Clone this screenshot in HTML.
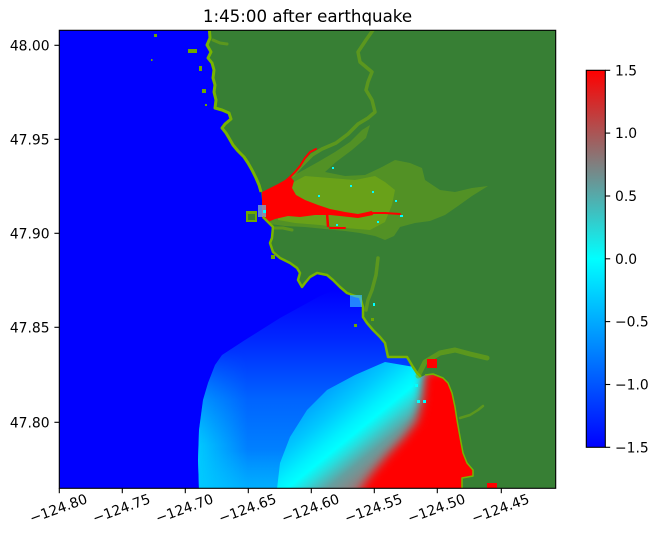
<!DOCTYPE html>
<html><head><meta charset="utf-8"><style>
html,body{margin:0;padding:0;background:#fff;}
svg{display:block;}
text{font-family:"DejaVu Sans","Liberation Sans",sans-serif;fill:#000;}
</style></head><body>
<svg width="658" height="541" viewBox="0 0 658 541" xmlns="http://www.w3.org/2000/svg">
<defs>
<clipPath id="pc"><rect x="59.3" y="30.3" width="496.4" height="458"/></clipPath>
<linearGradient id="gL" gradientUnits="userSpaceOnUse" x1="0" y1="290" x2="0" y2="489">
<stop offset="0" stop-color="#0000ff"/><stop offset="0.25" stop-color="#0028ff"/>
<stop offset="0.55" stop-color="#0064ff"/><stop offset="1" stop-color="#0096ff"/></linearGradient>
<linearGradient id="gRim" gradientUnits="userSpaceOnUse" x1="198" y1="0" x2="248" y2="0">
<stop offset="0" stop-color="#00dcff" stop-opacity="0.8"/><stop offset="1" stop-color="#00dcff" stop-opacity="0"/></linearGradient>
<linearGradient id="gMaskV" gradientUnits="userSpaceOnUse" x1="0" y1="350" x2="0" y2="445">
<stop offset="0" stop-color="#000"/><stop offset="1" stop-color="#fff"/></linearGradient>
<mask id="mV"><rect x="0" y="0" width="658" height="541" fill="url(#gMaskV)"/></mask>
<linearGradient id="gBot" gradientUnits="userSpaceOnUse" x1="0" y1="450" x2="0" y2="489">
<stop offset="0" stop-color="#00c8ff" stop-opacity="0"/><stop offset="1" stop-color="#00c8ff" stop-opacity="0.5"/></linearGradient>
<linearGradient id="gB" gradientUnits="userSpaceOnUse" x1="316" y1="387.5" x2="385.5" y2="472.75">
<stop offset="0" stop-color="#0096ff"/><stop offset="0.273" stop-color="#00c8ff"/>
<stop offset="0.455" stop-color="#00f0ff"/><stop offset="0.545" stop-color="#00ffff"/>
<stop offset="0.636" stop-color="#28dcdc"/><stop offset="0.773" stop-color="#64a0a0"/>
<stop offset="0.909" stop-color="#8c8282"/><stop offset="1" stop-color="#aa6e6e"/></linearGradient>
<filter id="blur5" x="-20%" y="-20%" width="140%" height="140%"><feGaussianBlur stdDeviation="5"/></filter>
<linearGradient id="gCB" x1="0" y1="0" x2="0" y2="1">
<stop offset="0" stop-color="#ff0000"/><stop offset="0.5" stop-color="#00ffff"/><stop offset="1" stop-color="#0000ff"/></linearGradient>
</defs>

<!-- title -->
<text x="307.5" y="22" font-size="16.67" text-anchor="middle">1:45:00 after earthquake</text>

<g clip-path="url(#pc)">
<rect x="59.3" y="30.3" width="496.4" height="458" fill="#0000ff"/>
<!-- wave left region -->
<path d="M199,489 L198,460 L199,430 L203,400 L208,383 L215,365 L222,355 L245,340 L280,318 L320,296 L345,285 L420,300 L560,300 L560,489 Z" fill="url(#gL)"/>
<path d="M199,489 L198,460 L199,430 L203,400 L208,383 L215,365 L222,355 L245,340 L280,318 L320,296 L345,285 L420,300 L560,300 L560,489 Z" fill="url(#gRim)" mask="url(#mV)"/>
<path d="M199,489 L198,450 L560,450 L560,489 Z" fill="url(#gBot)"/>
<!-- band -->
<path d="M277,489 L280,463 L290,437 L307,410 L327,390 L355,375 L385,362 L420,368 L560,368 L560,489 Z" fill="url(#gB)"/>
<path d="M424,370 L495,370 L495,498 L356,498 L362,488 L372,474 L388,455 L404,438 L417,421 L422,400 Z" fill="#ff0000" filter="url(#blur5)"/>

<!-- land -->
<path d="M209,25 L210,38 L207,45 L211,52 L208,58 L212,63 L214,70 L213,78 L215,85 L214,92 L216,100 L215,108 L222,110 L229,113 L231,119 L225,124 L222,128 L226,133 L229,138 L233,145 L238,151 L244,157 L248,163 L252,170 L256,178 L259,185 L261,192 L262,200 L263,210 L263,217 L268,222 L273,227 L272,238 L270,243 L273,252 L280,258 L290,263 L297,268 L300,273 L298,280 L302,287 L305,283 L310,277 L317,273 L327,275 L333,280 L340,287 L347,293 L355,296 L360,297 L363,307 L363,317 L367,323 L373,330 L380,337 L385,343 L388,357 L407,357 L413,367 L417,373 L421,377 L425,375 L433,374 L443,378 L448,383 L452,393 L455,407 L457,420 L460,437 L463,453 L467,463 L473,470 L473,476 L462,478 L462,495 L560,495 L560,25 Z" fill="#377f34"/>
<rect x="487" y="483" width="10" height="7" fill="#ff0000"/>

<!-- olive estuary -->
<g fill="#86b40c" opacity="0.35">
<path d="M268,200 L285,180 L300,172 L318,162 L335,152 L350,142 L362,130 L370,125 L366,138 L352,150 L336,162 L325,172 L345,176 L365,175 L380,168 L395,160 L410,163 L422,168 L425,180 L440,190 L455,192 L472,188 L488,186 L472,196 L458,206 L445,215 L430,221 L415,223 L400,227 L394,236 L385,240 L375,236 L360,233 L345,231 L325,229 L305,227 L285,226 L270,224 Z"/>
</g>
<g fill="#8cba08" opacity="0.4">
<path d="M275,198 L290,184 L305,176 L330,178 L355,180 L375,176 L385,182 L395,190 L392,205 L385,222 L370,230 L345,228 L320,225 L295,223 L278,220 Z"/>
</g>
<g fill="none" stroke="#80b008" stroke-linejoin="round" stroke-linecap="round" opacity="0.5">
<polyline stroke-width="3.5" points="373,30 366,40 358,52 360,62 372,72 368,82 366,90 372,100 375,112 368,118 358,124 348,134 336,143 322,149 312,155 302,165 293,175"/>
<polyline stroke-width="3" points="213,40 220,43 227,44"/>
<polyline stroke-width="3.5" points="378,258 376,275 372,290 368,300 366,310"/>
<polyline stroke-width="5" points="418,376 425,362 440,353 455,350 470,354 487,358"/>
<polyline stroke-width="2.5" points="460,418 470,415 478,410 483,406"/>
<polyline stroke-width="3" points="273,228 283,228 292,230"/>
</g>

<!-- red bay -->
<path d="M262,192 L270,188 L278,184 L285,180 L290,176 L294,181 L292,188 L296,195 L305,200 L318,205 L330,209 L345,212 L358,214 L372,211 L373,215 L358,218 L340,216 L330,215 L315,215 L300,217 L288,216 L275,219 L268,222 L262,218 Z" fill="#ff0000"/>
<g fill="none" stroke="#ff0000" stroke-linecap="round">
<polyline stroke-width="2" points="287,180 295,172 300,166 305,158 310,152 316,149"/>
<polyline stroke-width="2" points="372,213 385,213 400,214"/>
<polyline stroke-width="2.5" points="327,213 328,226"/>
<polyline stroke-width="2" points="330,228 345,228"/>
</g>
<rect x="427" y="359" width="10" height="9" fill="#ff0000"/>
<rect x="258" y="205" width="8" height="12" fill="#7aa6c8" opacity="0.8"/>

<!-- coast rim -->
<g fill="none" stroke="#78b400" stroke-width="3" stroke-linejoin="round">
<polyline points="209,25 210,38 207,45 211,52 208,58 212,63 214,70 213,78 215,85 214,92 216,100 215,108 222,110 229,113 231,119 225,124 222,128 226,133 229,138 233,145 238,151 244,157 248,163 252,170 256,178 259,185 261,192"/>
<polyline stroke-width="2.5" points="263,217 268,222 273,227 272,238 270,243 273,252 280,258 290,263 297,268 300,273 298,280 302,287 305,283 310,277 317,273 327,275 333,280 340,287 347,293 355,296 360,297 363,307 363,317 367,323 373,330 380,337 385,343 388,357 407,357 413,367 417,373 421,377"/>
<polyline stroke-width="1.5" points="425,375 433,374 443,378 448,383 452,393 455,407 457,420 460,437 463,453 467,463 473,470 473,476 462,478 462,489"/>
</g>

<!-- islands -->
<g fill="#6ea800">
<rect x="154" y="34" width="3" height="3"/>
<rect x="151" y="59" width="1.5" height="2"/>
<rect x="188" y="49" width="9" height="4"/>
<rect x="199" y="66" width="3" height="5"/>
<rect x="202" y="89" width="4" height="4"/>
<rect x="205" y="104" width="2" height="2"/>
<rect x="246" y="211" width="11" height="11"/>
<rect x="271" y="255" width="4" height="4"/>
<rect x="354" y="324" width="3" height="3"/>
<rect x="371" y="318" width="3" height="3"/>
</g>
<rect x="248" y="214" width="7" height="6" fill="#377f34"/>

<!-- cyan specks -->
<g fill="#00ffff">
<rect x="350" y="185" width="2" height="2"/><rect x="372" y="191" width="2" height="2"/>
<rect x="395" y="200" width="2" height="2"/><rect x="400" y="215" width="3" height="2"/>
<rect x="336" y="224" width="2" height="2"/><rect x="377" y="221" width="2" height="2"/>
<rect x="318" y="195" width="2" height="2"/><rect x="332" y="167" width="2" height="2"/>
<rect x="415" y="384" width="3" height="3"/><rect x="417" y="400" width="3" height="3"/>
<rect x="423" y="400" width="3" height="3"/><rect x="373" y="303" width="2" height="3"/>
<rect x="263" y="210" width="3" height="3"/>
</g>
<rect x="350" y="295" width="12" height="12" fill="#30b8ff" opacity="0.7"/>
</g>

<!-- frame -->
<rect x="59.3" y="30.3" width="496.4" height="458" fill="none" stroke="#000" stroke-width="1.1"/>

<!-- x ticks -->
<g stroke="#000" stroke-width="1.1">
<line x1="59.3" y1="488.3" x2="59.3" y2="493.2"/>
<line x1="122.3" y1="488.3" x2="122.3" y2="493.2"/>
<line x1="185.3" y1="488.3" x2="185.3" y2="493.2"/>
<line x1="248.3" y1="488.3" x2="248.3" y2="493.2"/>
<line x1="311.3" y1="488.3" x2="311.3" y2="493.2"/>
<line x1="374.3" y1="488.3" x2="374.3" y2="493.2"/>
<line x1="437.3" y1="488.3" x2="437.3" y2="493.2"/>
<line x1="501.3" y1="488.3" x2="501.3" y2="493.2"/>
</g>
<g font-size="13.89" text-anchor="middle">
<text transform="translate(60,513) rotate(-20)">−124.80</text>
<text transform="translate(123,513) rotate(-20)">−124.75</text>
<text transform="translate(186,513) rotate(-20)">−124.70</text>
<text transform="translate(249,513) rotate(-20)">−124.65</text>
<text transform="translate(312,513) rotate(-20)">−124.60</text>
<text transform="translate(375,513) rotate(-20)">−124.55</text>
<text transform="translate(438,513) rotate(-20)">−124.50</text>
<text transform="translate(502,513) rotate(-20)">−124.45</text>
</g>

<!-- y ticks -->
<g stroke="#000" stroke-width="1.1">
<line x1="54.4" y1="45.3" x2="59.3" y2="45.3"/>
<line x1="54.4" y1="139.3" x2="59.3" y2="139.3"/>
<line x1="54.4" y1="233.3" x2="59.3" y2="233.3"/>
<line x1="54.4" y1="327.3" x2="59.3" y2="327.3"/>
<line x1="54.4" y1="422.3" x2="59.3" y2="422.3"/>
</g>
<g font-size="13.89" text-anchor="end">
<text x="49.6" y="50.3">48.00</text>
<text x="49.6" y="144.3">47.95</text>
<text x="49.6" y="238.3">47.90</text>
<text x="49.6" y="332.3">47.85</text>
<text x="49.6" y="427.3">47.80</text>
</g>

<!-- colorbar -->
<rect x="586.3" y="70.3" width="19" height="377" fill="url(#gCB)" stroke="#000" stroke-width="1.1"/>
<g stroke="#000" stroke-width="1.1">
<line x1="605.3" y1="70.3" x2="610.2" y2="70.3"/>
<line x1="605.3" y1="133.1" x2="610.2" y2="133.1"/>
<line x1="605.3" y1="196" x2="610.2" y2="196"/>
<line x1="605.3" y1="258.8" x2="610.2" y2="258.8"/>
<line x1="605.3" y1="321.6" x2="610.2" y2="321.6"/>
<line x1="605.3" y1="384.5" x2="610.2" y2="384.5"/>
<line x1="605.3" y1="447.3" x2="610.2" y2="447.3"/>
</g>
<g font-size="13.89">
<text x="615" y="75.3">1.5</text>
<text x="615" y="138.1">1.0</text>
<text x="615" y="201">0.5</text>
<text x="615" y="263.8">0.0</text>
<text x="615" y="326.6">−0.5</text>
<text x="615" y="389.5">−1.0</text>
<text x="615" y="452.3">−1.5</text>
</g>
</svg>
</body></html>
